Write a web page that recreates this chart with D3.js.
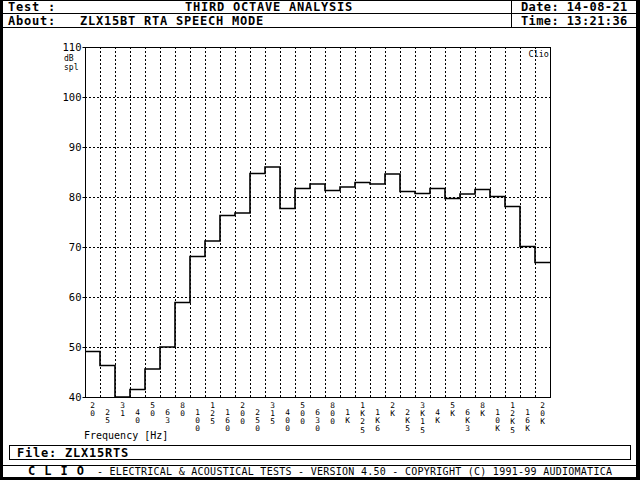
<!DOCTYPE html>
<html><head><meta charset="utf-8">
<script src="https://cdn.jsdelivr.net/npm/d3@7"></script>
<style>html,body{margin:0;padding:0;background:#fff;} svg{display:block;}</style>
</head><body>
<script>
// ---- data ----
const bands = ["20","25","31","40","50","63","80","100","125","160","200","250","315","400","500","630","800",
  "1K","1K25","1K6","2K","2K5","3K15","4K","5K","6K3","8K","10K","12K5","16K","20K"];
const levels = [49.1,46.3,39.0,41.5,45.6,50.0,58.9,68.1,71.2,76.3,76.8,84.7,86.0,77.7,81.7,82.6,81.3,
  82.0,82.9,82.6,84.6,81.1,80.7,81.7,79.7,80.6,81.5,80.1,78.1,70.1,66.9];
const yTicks = [40,50,60,70,80,90,100,110];
const headerTitle = "THIRD OCTAVE ANALYSIS";
const aboutText = "ZLX15BT RTA SPEECH MODE";
const dateText = "14-08-21";
const timeText = "13:21:36";
const fileName = "ZLX15RTS";

const W = 640, H = 480;
const svg = d3.select("body").append("svg").attr("width", W).attr("height", H);
svg.append("rect").attr("width", W).attr("height", H).attr("fill", "#fff");

const mono = "'DejaVu Sans Mono', 'Liberation Mono', monospace";

// ---- outer frame ----
svg.append("rect").attr("x",0).attr("y",0).attr("width",W).attr("height",1).attr("fill","#000");
svg.append("rect").attr("x",0).attr("y",0).attr("width",3).attr("height",H).attr("fill","#000");
svg.append("rect").attr("x",636).attr("y",0).attr("width",4).attr("height",H).attr("fill","#000");
svg.append("rect").attr("x",0).attr("y",477).attr("width",W).attr("height",3).attr("fill","#000");

// ---- header ----
const hl = (x1,y1,x2,y2) => svg.append("line").attr("x1",x1).attr("y1",y1).attr("x2",x2).attr("y2",y2)
  .attr("stroke","#000").attr("stroke-width",1).attr("shape-rendering","crispEdges");
hl(0,13.5,636,13.5);
hl(0,27.5,636,27.5);
hl(511.5,0,511.5,27.5);

const htext = (x,y,t,opts={}) => svg.append("text").attr("x",x).attr("y",y).text(t)
  .attr("font-family",mono).attr("font-size",opts.size||12).attr("font-weight",opts.weight||"bold")
  .attr("letter-spacing",opts.ls!==undefined?opts.ls:0.78).attr("fill","#000")
  .attr("text-anchor",opts.anchor||"start");
htext(8,11,"Test :");
htext(185,11,headerTitle);
htext(8,25,"About:");
htext(80,25,aboutText);
htext(521,11,"Date: "+dateText,{ls:0.4});
htext(521,25,"Time: "+timeText,{ls:0.4});

// ---- plot ----
const x = d3.scaleBand().domain(bands).range([85,550]).paddingInner(0).paddingOuter(0);
const y = d3.scaleLinear().domain([40,110]).range([397,47]).clamp(true);

const g = svg.append("g");
// horizontal grid
g.selectAll(".hg").data(yTicks.filter(v=>v>40 && v<110)).join("line")
  .attr("x1",85).attr("x2",550).attr("y1",d=>y(d)+0.5).attr("y2",d=>y(d)+0.5)
  .attr("stroke","#000").attr("stroke-dasharray","2,2").attr("shape-rendering","crispEdges");
// vertical grid at band edges
g.selectAll(".vg").data(bands.slice(1)).join("line")
  .attr("x1",d=>x(d)+0.5).attr("x2",d=>x(d)+0.5).attr("y1",47).attr("y2",397)
  .attr("stroke","#000").attr("stroke-dasharray","2,2").attr("shape-rendering","crispEdges");

// y axis labels via d3 axis
const yAxis = d3.axisLeft(y).tickValues(yTicks).tickSize(3).tickPadding(1).tickFormat(d3.format("d"));
const ya = svg.append("g").attr("transform","translate(85.5,0)").call(yAxis);
ya.select(".domain").remove();
ya.selectAll("text").attr("font-family",mono).attr("font-size",10.5).attr("fill","#000");
ya.selectAll("line").attr("stroke","#000");

// frame
svg.append("rect").attr("x",85.5).attr("y",47.5).attr("width",465).attr("height",350)
  .attr("fill","none").attr("stroke","#000").attr("stroke-width",1).attr("shape-rendering","crispEdges");

// step line
const pts = bands.map((b,i)=>[x(b), y(levels[i])]);
pts.push([x(bands[bands.length-1])+x.bandwidth(), y(levels[levels.length-1])]);
svg.append("path").attr("d", d3.line().curve(d3.curveStepAfter)(pts))
  .attr("fill","none").attr("stroke","#000").attr("stroke-width",1.6);

// y unit labels (one text, two lines)
const unit = svg.append("text").attr("font-family",mono).attr("font-size",8).attr("fill","#000");
unit.append("tspan").attr("x",64).attr("y",61.3).text("dB");
unit.append("tspan").attr("x",64).attr("dy",8.3).text("spl");
svg.append("text").attr("x",549).attr("y",57).text("Clio")
  .attr("font-family",mono).attr("font-size",8.5).attr("fill","#000").attr("text-anchor","end");

// x tick labels: stacked characters, one text per band
bands.forEach((b,i)=>{
  const cx = x(b) + x.bandwidth()/2;
  const y0 = (i%2===0) ? 408 : 415;
  const t = svg.append("text").attr("font-family",mono).attr("font-size",7.8)
    .attr("text-anchor","middle").attr("fill","#000");
  b.split("").forEach((ch,k)=>{
    const ts = t.append("tspan").attr("x",cx).text(ch);
    if (k===0) ts.attr("y",y0); else ts.attr("dy",8.2);
  });
});
svg.append("text").attr("x",84).attr("y",439).text("Frequency [Hz]")
  .attr("font-family",mono).attr("font-size",10).attr("fill","#000");

// ---- footer ----
svg.append("rect").attr("x",9.5).attr("y",445.5).attr("width",621).attr("height",14)
  .attr("fill","none").attr("stroke","#000").attr("shape-rendering","crispEdges");
htext(17,457,"File: "+fileName);
hl(0,465.5,636,465.5);
svg.append("text").attr("x",28).attr("y",475).text("C L I O")
  .attr("font-family",mono).attr("font-size",12).attr("font-weight","bold").attr("fill","#000")
  .attr("textLength",56).attr("lengthAdjust","spacing");
svg.append("text").attr("x",97).attr("y",475)
  .text("-  ELECTRICAL & ACOUSTICAL TESTS  -  VERSION 4.50  -  COPYRIGHT (C) 1991-99 AUDIOMATICA")
  .attr("font-family",mono).attr("font-size",10).attr("fill","#000")
  .attr("textLength",515).attr("lengthAdjust","spacing");
</script>
</body></html>
